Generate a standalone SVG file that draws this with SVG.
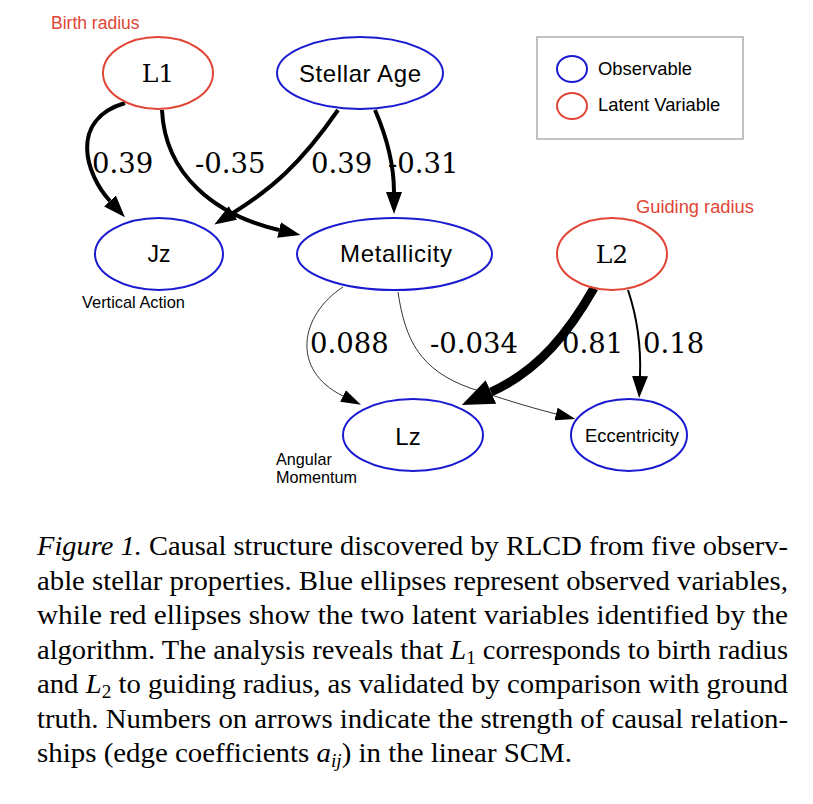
<svg xmlns="http://www.w3.org/2000/svg" width="813" height="804" viewBox="0 0 813 804">
<style>
.obs{fill:none;stroke:#1a1ad0;stroke-width:2}
.lat{fill:none;stroke:#e04535;stroke-width:2}
.sans{font-family:"Liberation Sans",Arial,sans-serif;fill:#000}
.serif{font-family:"DejaVu Serif",serif;fill:#000}
.red{fill:#e04535}
.lbl{font-family:"DejaVu Serif",serif;font-size:27.5px;fill:#000}
.e{fill:none;stroke:#000}
.cap{font-family:"Liberation Serif","Times New Roman",serif;font-size:27px;fill:#000}
</style>
<defs>
<marker id="ah" viewBox="0 0 22 16" refX="0" refY="8" markerWidth="22" markerHeight="16" markerUnits="userSpaceOnUse" orient="auto"><path d="M0,0 L22,8 L0,16 z" fill="#000"/></marker>
<marker id="ahs" viewBox="0 0 20 13" refX="0" refY="6.5" markerWidth="20" markerHeight="13" markerUnits="userSpaceOnUse" orient="auto"><path d="M0,0 L20,6.5 L0,13 z" fill="#000"/></marker>
<marker id="ahl" viewBox="0 0 32 26" refX="0" refY="13" markerWidth="32" markerHeight="26" markerUnits="userSpaceOnUse" orient="auto"><path d="M0,0 L32,13 L0,26 z" fill="#000"/></marker>
</defs>
<rect width="813" height="804" fill="#fff"/>

<g id="connectors">
<path class="e" stroke-width="4" d="M125,103 C68,120 86,175 110,201" marker-end="url(#ah)"/>
<path class="e" stroke-width="4" d="M162,110 C165,175 215,215 279,230" marker-end="url(#ah)"/>
<path class="e" stroke-width="4" d="M338,110 C300,165 270,190 233,213" marker-end="url(#ah)"/>
<path class="e" stroke-width="4" d="M375,110 C388,140 394,165 394,192" marker-end="url(#ah)"/>
<path class="e" stroke-width="0.8" d="M343,287 C300,315 290,370 343,396" marker-end="url(#ahs)"/>
<path class="e" stroke-width="0.8" d="M398,292 C405,340 420,370 470,388 C500,398 525,406 556,414" marker-end="url(#ahs)"/>
<path class="e" stroke-width="9" d="M594,288 C570,330 540,370 491,392" marker-end="url(#ahl)"/>
<path class="e" stroke-width="2" d="M628,290 C638,320 641,350 640,376" marker-end="url(#ah)"/>
<text class="lbl" x="92" y="173">0.39</text>
<text class="lbl" x="195" y="173">-0.35</text>
<text class="lbl" x="311" y="173">0.39</text>
<text class="lbl" x="388" y="173">-0.31</text>
<text class="lbl" x="310" y="353">0.088</text>
<text class="lbl" x="430" y="353">-0.034</text>
<text class="lbl" x="562" y="353">0.81</text>
<text class="lbl" x="643" y="353">0.18</text>
</g>

<g id="L1">
<ellipse class="lat" cx="158" cy="73" rx="55" ry="36"/>
<text class="serif" x="158" y="82" font-size="25" text-anchor="middle">L1</text>
<text class="sans red" x="51" y="29" font-size="17.5">Birth radius</text>
</g>
<g id="StellarAge">
<ellipse class="obs" cx="360" cy="73" rx="83" ry="36"/>
<text class="sans" x="360" y="82" font-size="24" text-anchor="middle" textLength="122">Stellar Age</text>
</g>
<g id="Jz">
<ellipse class="obs" cx="159" cy="254" rx="64" ry="36"/>
<text class="sans" x="159" y="262" font-size="23" text-anchor="middle">Jz</text>
<text class="sans" x="82" y="308" font-size="16.4">Vertical Action</text>
</g>
<g id="Metallicity">
<ellipse class="obs" cx="394.5" cy="254" rx="97.5" ry="36"/>
<text class="sans" x="396" y="262" font-size="24" text-anchor="middle" textLength="112">Metallicity</text>
</g>
<g id="L2">
<ellipse class="lat" cx="612" cy="254" rx="55" ry="36"/>
<text class="serif" x="612" y="263" font-size="25" text-anchor="middle">L2</text>
<text class="sans red" x="636" y="213" font-size="18.3">Guiding radius</text>
</g>
<g id="Lz">
<ellipse class="obs" cx="413" cy="435" rx="70" ry="36"/>
<text class="sans" x="408" y="445" font-size="24" text-anchor="middle">Lz</text>
<text class="sans" x="276" y="465" font-size="16.2">Angular</text>
<text class="sans" x="276" y="483" font-size="16.2">Momentum</text>
</g>
<g id="Eccentricity">
<ellipse class="obs" cx="629" cy="435" rx="58" ry="36"/>
<text class="sans" x="632" y="442" font-size="18.4" text-anchor="middle">Eccentricity</text>
</g>

<g id="legend">
<rect x="537" y="37" width="206" height="102" fill="none" stroke="#999" stroke-width="1.2"/>
<ellipse class="obs" cx="572" cy="69" rx="15" ry="13"/>
<ellipse class="lat" cx="572" cy="106" rx="15" ry="13"/>
<text class="sans" x="598" y="75" font-size="18.4">Observable</text>
<text class="sans" x="598" y="111" font-size="18.4">Latent Variable</text>
</g>

<g id="caption">
<text class="cap" x="37" y="555" textLength="751" lengthAdjust="spacingAndGlyphs"><tspan font-style="italic">Figure 1.</tspan>  Causal structure discovered by RLCD from five observ-</text>
<text class="cap" x="37" y="589.5" textLength="751" lengthAdjust="spacingAndGlyphs">able stellar properties. Blue ellipses represent observed variables,</text>
<text class="cap" x="37" y="624" textLength="751" lengthAdjust="spacingAndGlyphs">while red ellipses show the two latent variables identified by the</text>
<text class="cap" x="37" y="658.5" textLength="751" lengthAdjust="spacingAndGlyphs">algorithm. The analysis reveals that <tspan font-style="italic">L</tspan><tspan font-size="18" dy="5">1</tspan><tspan dy="-5"> corresponds to birth radius</tspan></text>
<text class="cap" x="37" y="693" textLength="751" lengthAdjust="spacingAndGlyphs">and <tspan font-style="italic">L</tspan><tspan font-size="18" dy="5">2</tspan><tspan dy="-5"> to guiding radius, as validated by comparison with ground</tspan></text>
<text class="cap" x="37" y="727.5" textLength="751" lengthAdjust="spacingAndGlyphs">truth. Numbers on arrows indicate the strength of causal relation-</text>
<text class="cap" x="37" y="762" textLength="535" lengthAdjust="spacingAndGlyphs">ships (edge coefficients <tspan font-style="italic">a</tspan><tspan font-style="italic" font-size="18" dy="5">ij</tspan><tspan dy="-5">) in the linear SCM.</tspan></text>
</g>
</svg>
